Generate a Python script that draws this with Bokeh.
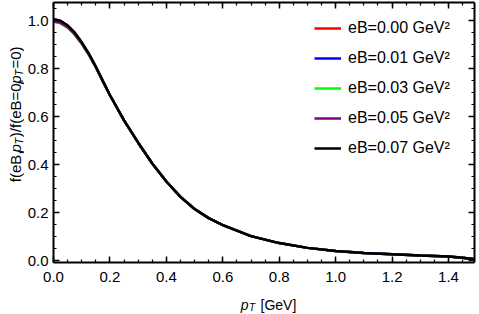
import math
from bokeh.plotting import figure
from bokeh.layouts import row, column
from bokeh.models import (Range1d, LinearAxis, Legend, LegendItem, Label,
                          FixedTicker, NumeralTickFormatter)
from bokeh.embed import file_html
from bokeh.resources import INLINE

# ---------------- data ----------------
pt = [0.0, 0.025, 0.05, 0.075, 0.1, 0.125, 0.15, 0.175, 0.2, 0.25, 0.3, 0.35,
      0.4, 0.45, 0.5, 0.55, 0.6, 0.7, 0.8, 0.9, 1.0, 1.1, 1.2, 1.3, 1.4, 1.45, 1.5]

f_eb000 = [1.002, 0.995, 0.976, 0.946, 0.907, 0.861, 0.807, 0.748, 0.690, 0.585, 0.492, 0.405,
           0.330, 0.266, 0.215, 0.177, 0.148, 0.102, 0.073, 0.053, 0.040, 0.032, 0.026, 0.021, 0.017, 0.012, 0.004]
f_eb001 = [1.003, 0.996, 0.977, 0.947, 0.908, 0.862, 0.808, 0.749, 0.690, 0.585, 0.492, 0.405,
           0.330, 0.266, 0.215, 0.177, 0.148, 0.102, 0.073, 0.053, 0.040, 0.032, 0.026, 0.021, 0.017, 0.012, 0.004]
f_eb003 = [0.997, 0.990, 0.972, 0.943, 0.905, 0.859, 0.806, 0.748, 0.689, 0.584, 0.492, 0.405,
           0.330, 0.266, 0.215, 0.177, 0.148, 0.102, 0.073, 0.053, 0.040, 0.032, 0.026, 0.021, 0.017, 0.012, 0.004]
f_eb005 = [0.999, 0.992, 0.974, 0.945, 0.906, 0.860, 0.807, 0.748, 0.690, 0.585, 0.492, 0.405,
           0.330, 0.266, 0.215, 0.177, 0.148, 0.102, 0.073, 0.053, 0.040, 0.032, 0.026, 0.021, 0.017, 0.012, 0.004]
f_eb007 = [1.008, 1.001, 0.982, 0.952, 0.912, 0.865, 0.810, 0.750, 0.691, 0.585, 0.492, 0.405,
           0.330, 0.266, 0.215, 0.177, 0.148, 0.102, 0.073, 0.053, 0.040, 0.032, 0.026, 0.021, 0.017, 0.012, 0.004]

series = [f_eb000, f_eb001, f_eb003, f_eb005, f_eb007]
legend_labels = ["eB=0.00 GeV²", "eB=0.01 GeV²", "eB=0.03 GeV²", "eB=0.05 GeV²", "eB=0.07 GeV²"]
colors = ["#ff0000", "#0000ff", "#00ff00", "#800080", "#000000"]

x_ticks = [0.0, 0.2, 0.4, 0.6, 0.8, 1.0, 1.2, 1.4]
y_ticks = [0.0, 0.2, 0.4, 0.6, 0.8, 1.0]

# ---------------- layout ----------------
YLW = 24                 # width of the strip holding the y-axis title
XLH = 24                 # height of the strip holding the x-axis title
W, H = 479 - YLW, 314 - XLH
BL, BR, BT, BB = 28, 5, 2, 28
FW, FH = W - BL - BR, H - BT - BB
X0, X1 = 0.0, 1.492
Y0, Y1 = -0.008, 1.077
FONT = "Liberation Sans"

p = figure(width=W, height=H, output_backend="svg", toolbar_location=None,
           x_range=Range1d(X0, X1), y_range=Range1d(Y0, Y1),
           min_border_left=BL, min_border_right=BR,
           min_border_top=BT, min_border_bottom=BB)
p.xgrid.visible = False
p.ygrid.visible = False
p.outline_line_color = None
p.background_fill_color = "white"
p.border_fill_color = "white"

x_minor = [round(i * 0.05, 3) for i in range(31)]
y_minor = [round(i * 0.05, 3) for i in range(23)]


def style(ax, show_labels, ticks):
    ax.axis_line_width = 2
    ax.axis_line_color = "black"
    ax.major_tick_in = 6
    ax.major_tick_out = 0
    ax.minor_tick_in = 3
    ax.minor_tick_out = 0
    ax.major_tick_line_width = 1.5
    ax.minor_tick_line_width = 1.2
    ax.major_tick_line_color = "black"
    ax.minor_tick_line_color = "black"
    ax.major_label_text_font = FONT
    ax.major_label_text_color = "black"
    if show_labels:
        ax.major_label_text_font_size = "15px"
    else:
        ax.major_label_text_font_size = "1px"
        ax.major_label_standoff = 0
        ax.major_label_overrides = {t: "" for t in ticks}


p.xaxis.ticker = FixedTicker(ticks=x_ticks, minor_ticks=x_minor)
p.yaxis.ticker = FixedTicker(ticks=y_ticks, minor_ticks=y_minor)
p.xaxis.formatter = NumeralTickFormatter(format="0.0")
p.yaxis.formatter = NumeralTickFormatter(format="0.0")
style(p.xaxis[0], True, x_ticks)
style(p.yaxis[0], True, y_ticks)
p.xaxis.major_label_standoff = 9
p.yaxis.major_label_standoff = 5

top = LinearAxis(ticker=FixedTicker(ticks=x_ticks, minor_ticks=x_minor))
right = LinearAxis(ticker=FixedTicker(ticks=y_ticks, minor_ticks=y_minor))
style(top, False, x_ticks)
style(right, False, y_ticks)
p.add_layout(top, "above")
p.add_layout(right, "right")

renderers = []
for ys, c in zip(series, colors):
    r = p.line(pt, ys, line_color=c, line_width=2.5)
    renderers.append(r)

# one single-entry legend per series, stacked 30 px apart
LEG_TOP_CENTER = 26      # centre of first entry, px below frame top
LEG_PITCH = 30
for i, (lab, r) in enumerate(zip(legend_labels, renderers)):
    centre_from_bottom = FH - (LEG_TOP_CENTER + i * LEG_PITCH)
    leg = Legend(items=[LegendItem(label=lab, renderers=[r])],
                 location=(261, centre_from_bottom - 10),
                 border_line_color=None, background_fill_alpha=0,
                 padding=0, margin=0, spacing=0,
                 glyph_width=27, glyph_height=20, label_height=20,
                 label_standoff=7, label_text_font_size="16px",
                 label_text_font=FONT, label_text_color="black",
                 label_text_baseline="middle")
    p.add_layout(leg)

# ---------------- axis titles (mixed styles, built from pieces) ----------------
CW = {"f": 278, "(": 333, ")": 333, "e": 556, "B": 667, ",": 278, "p": 556, "T": 611,
      "/": 278, "=": 584, "0": 556, " ": 278, "[": 278, "]": 278, "G": 778, "V": 667}


def tw(s, size):
    return sum(CW.get(ch, 556) for ch in s) * size / 1000.0


def strip(width, height):
    f = figure(width=width, height=height, output_backend="svg", toolbar_location=None,
               x_range=Range1d(0, width), y_range=Range1d(0, height),
               x_axis_location=None, y_axis_location=None, min_border=0)
    f.outline_line_color = None
    f.xgrid.visible = False
    f.ygrid.visible = False
    f.background_fill_color = "white"
    f.border_fill_color = "white"
    return f


# y title: f(eB,p_T)/f(eB=0,p_T=0), reading upwards
# (text, size, style, shift towards subscript, extra gap after the piece)
YM, YS = 15, 11
ylab = strip(YLW, H)
ypieces = [("f(eB,", YM, "normal", 0, 1.5), ("p", YM, "italic", 0, 0.5), ("T", YS, "italic", 3, 1.5),
           (")/f(eB=0,", YM, "normal", 0, 1.5), ("p", YM, "italic", 0, 0.5), ("T", YS, "italic", 3, 1.5),
           ("=0)", YM, "normal", 0, 0)]
total = sum(tw(s, sz) + g for s, sz, _, _, g in ypieces)
base_x = 15
pos = (H - 126) - total / 2.0
for s, sz, st, off, gap in ypieces:
    ylab.add_layout(Label(x=base_x + off, y=pos, text=s, angle=math.pi / 2,
                          text_font=FONT, text_font_size=f"{sz}px", text_font_style=st,
                          text_align="left", text_baseline="alphabetic", text_color="black"))
    pos += tw(s, sz) + gap

# x title: p_T [GeV]
XM, XS = 14, 10
xlab = strip(479, XLH)
xpieces = [("p", XM, "italic", 0, 0.5), ("T", XS, "italic", 3, tw(" ", XM) + 1.5),
           ("[GeV]", XM, "normal", 0, 0)]
xtotal = sum(tw(s, sz) + g for s, sz, _, _, g in xpieces)
posx = 268 - xtotal / 2.0
base_y = XLH - (304 - H)
for s, sz, st, off, gap in xpieces:
    xlab.add_layout(Label(x=posx, y=base_y - off, text=s,
                          text_font=FONT, text_font_size=f"{sz}px", text_font_style=st,
                          text_align="left", text_baseline="alphabetic", text_color="black"))
    posx += tw(s, sz) + gap

layout = column(row(ylab, p), xlab)
open("out.html", "w").write(file_html(layout, INLINE))
